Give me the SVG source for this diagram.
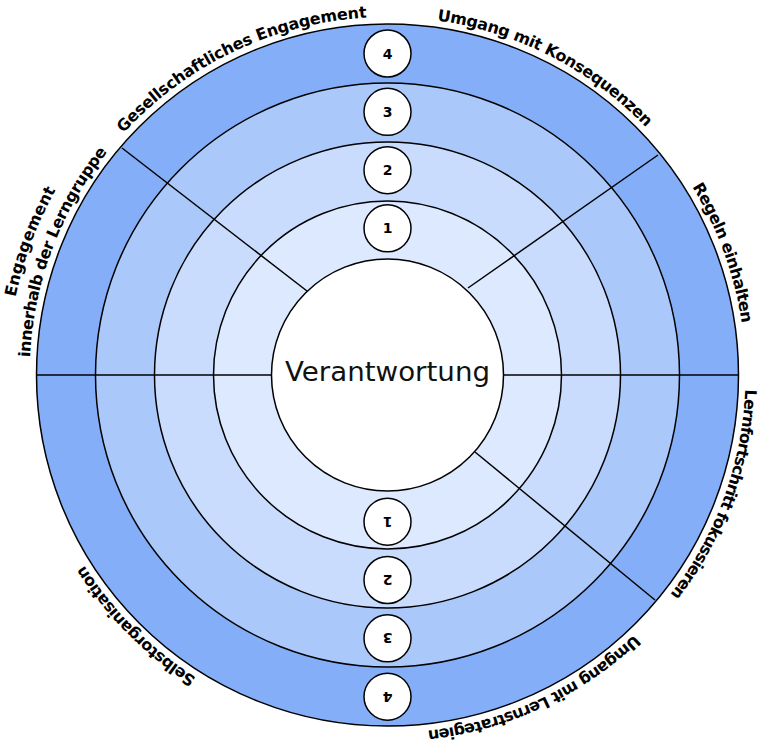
<svg xmlns="http://www.w3.org/2000/svg" width="761" height="747" viewBox="0 0 761 747">
<defs>
<style>
.ring{stroke:#000;stroke-width:1.5}
.r4{fill:#84AFF8}.r3{fill:#AAC8FA}.r2{fill:#C9DCFD}.r1{fill:#DDE9FE}
.core{fill:#fff;stroke:#000;stroke-width:1.5}
.div line{stroke:#000;stroke-width:1.5}
.badge circle{fill:#fff;stroke:#000;stroke-width:1.5}
.badge text{font-family:"DejaVu Sans","Liberation Sans",sans-serif;font-weight:bold;font-size:14px;text-anchor:middle;fill:#000}
.lbl{font-family:"DejaVu Sans","Liberation Sans",sans-serif;font-weight:bold;font-size:16px;fill:#000;text-anchor:middle}
.title{font-family:"DejaVu Sans","Liberation Sans",sans-serif;font-size:26px;text-anchor:middle;fill:#111}
</style>
<path id="arc358" d="M745.5,375 A358,358 0 0 1 29.5,375 A358,358 0 0 1 745.5,375" fill="none"/>
<path id="arc380" d="M767.5,375 A380,380 0 0 1 7.5,375 A380,380 0 0 1 767.5,375" fill="none"/>
</defs>
<rect width="761" height="747" fill="#fff"/>
<g id="rings">
<circle class="ring r4" cx="387.5" cy="375" r="351"/>
<circle class="ring r3" cx="387.5" cy="375" r="292"/>
<circle class="ring r2" cx="387.5" cy="375" r="233"/>
<circle class="ring r1" cx="387.5" cy="375" r="174"/>
</g>
<g id="connectors" class="div">
<line x1="37" y1="375" x2="272" y2="375"/>
<line x1="503" y1="375" x2="738" y2="375"/>
<line x1="122" y1="148" x2="307" y2="291"/>
<line x1="658" y1="155" x2="468" y2="288"/>
<line x1="475" y1="452" x2="655" y2="600"/>
</g>
<g id="center">
<circle class="core" cx="387.5" cy="375" r="116"/>
<text class="title" x="387.5" y="381" textLength="205" lengthAdjust="spacingAndGlyphs">Verantwortung</text>
</g>
<g id="badge-top-4" class="badge"><circle cx="387.5" cy="53.5" r="23.5"/><text x="387.5" y="58.5">4</text></g>
<g id="badge-top-3" class="badge"><circle cx="387.5" cy="111.8" r="23.5"/><text x="387.5" y="116.8">3</text></g>
<g id="badge-top-2" class="badge"><circle cx="387.5" cy="170.2" r="23.5"/><text x="387.5" y="175.2">2</text></g>
<g id="badge-top-1" class="badge"><circle cx="387.5" cy="228.3" r="23.5"/><text x="387.5" y="233.3">1</text></g>
<g id="badge-bottom-1" class="badge"><circle cx="387.5" cy="521.7" r="23.5"/><text x="387.5" y="526.7" transform="rotate(180 387.5 521.7)">1</text></g>
<g id="badge-bottom-2" class="badge"><circle cx="387.5" cy="580" r="23.5"/><text x="387.5" y="585" transform="rotate(180 387.5 580)">2</text></g>
<g id="badge-bottom-3" class="badge"><circle cx="387.5" cy="638.3" r="23.5"/><text x="387.5" y="643.3" transform="rotate(180 387.5 638.3)">3</text></g>
<g id="badge-bottom-4" class="badge"><circle cx="387.5" cy="696.7" r="23.5"/><text x="387.5" y="701.7" transform="rotate(180 387.5 696.7)">4</text></g>
<g id="label-gesellschaftliches">
<text class="lbl"><textPath href="#arc358" startOffset="67.94%" textLength="276" lengthAdjust="spacing">Gesellschaftliches Engagement</textPath></text>
</g>
<g id="label-konsequenzen">
<text class="lbl"><textPath href="#arc358" startOffset="82.53%" textLength="239" lengthAdjust="spacing">Umgang mit Konsequenzen</textPath></text>
</g>
<g id="label-regeln">
<text class="lbl"><textPath href="#arc358" startOffset="94.44%" textLength="146" lengthAdjust="spacing">Regeln einhalten</textPath></text>
</g>
<g id="label-lernfortschritt">
<text class="lbl"><textPath href="#arc358" startOffset="5.58%" textLength="222" lengthAdjust="spacing">Lernfortschritt fokussieren</textPath></text>
</g>
<g id="label-lernstrategien">
<text class="lbl"><textPath href="#arc358" startOffset="18.06%" textLength="232" lengthAdjust="spacing">Umgang mit Lernstrategien</textPath></text>
</g>
<g id="label-selbstorganisation">
<text class="lbl"><textPath href="#arc358" startOffset="37.53%" textLength="160" lengthAdjust="spacing">Selbstorganisation</textPath></text>
</g>
<g id="label-lerngruppe">
<text class="lbl"><textPath href="#arc380" startOffset="55.69%" textLength="115" lengthAdjust="spacing">Engagement</textPath></text>
<text class="lbl"><textPath href="#arc358" startOffset="55.75%" textLength="223" lengthAdjust="spacing">innerhalb der Lerngruppe</textPath></text>
</g>
</svg>
